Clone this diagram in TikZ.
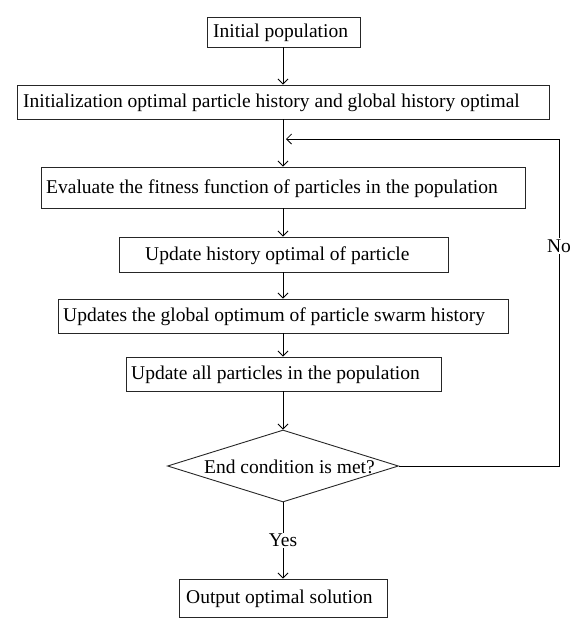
\documentclass[tikz,border=0pt]{standalone}
\usepackage{fontspec}
\setmainfont{Liberation Serif}
\usetikzlibrary{shapes.geometric,arrows.meta}
\begin{document}
\begin{tikzpicture}[x=1pt,y=-1pt,
  font=\fontsize{19.5}{22}\selectfont,
  box/.style={draw=black!85,line width=0.9pt,inner sep=0pt},
  txt/.style={anchor=west,inner sep=0pt,yshift=-1pt},
  arr/.style={draw=black,line width=0.8pt,-{Straight Barb[length=5pt,width=10pt,line width=0.8pt]}},
  lbl/.style={fill=white,inner sep=1.5pt}]
\useasboundingbox (0,0) rectangle (585,627);
\node[box,minimum width=153,minimum height=30] (n1) at (283.5,32) {};
\node[txt] (t1) at (213,32) {Initial population};
\node[box,minimum width=532,minimum height=34] (n2) at (283,102) {};
\node[txt] (t2) at (23,102) {Initialization optimal particle history and global history optimal};
\node[box,minimum width=484,minimum height=41] (n3) at (283,187.5) {};
\node[txt] (t3) at (46,187.5) {Evaluate the fitness function of particles in the population};
\node[box,minimum width=329,minimum height=35] (n4) at (283.5,254.5) {};
\node[txt] (t4) at (145,254.5) {Update history optimal of particle};
\node[box,minimum width=450,minimum height=34] (n5) at (283,316) {};
\node[txt] (t5) at (63,316) {Updates the global optimum of particle swarm history};
\node[box,minimum width=315,minimum height=34] (n6) at (283.5,374) {};
\node[txt] (t6) at (131,374) {Update all particles in the population};
\node[box,diamond,minimum width=231,minimum height=72] (d) at (283,466) {};
\node[txt] (td) at (204,466) {End condition is met?};
\node[box,minimum width=208,minimum height=38] (n7) at (283,598) {};
\node[txt] (t7) at (186,598) {Output optimal solution};
\coordinate (r) at (559,139);
\coordinate (m) at (286,139);
\draw[arr] (n1.south -| 283,0) -- (n2.north -| 283,0);
\draw[arr] (n2) -- (n3);
\draw[arr] (n3) -- (n4.north -| 283,0);
\draw[arr] (n4.south -| 283,0) -- (n5);
\draw[arr] (n5) -- (n6.north -| 283,0);
\draw[arr] (n6.south -| 283,0) -- (d);
\draw[arr] (d) -- node[lbl] (yes) {Yes} (n7);
\draw[arr] (d.east) -| (r) -- (m);
\node[lbl] (no) at (559,246) {No};
\end{tikzpicture}
\end{document}
